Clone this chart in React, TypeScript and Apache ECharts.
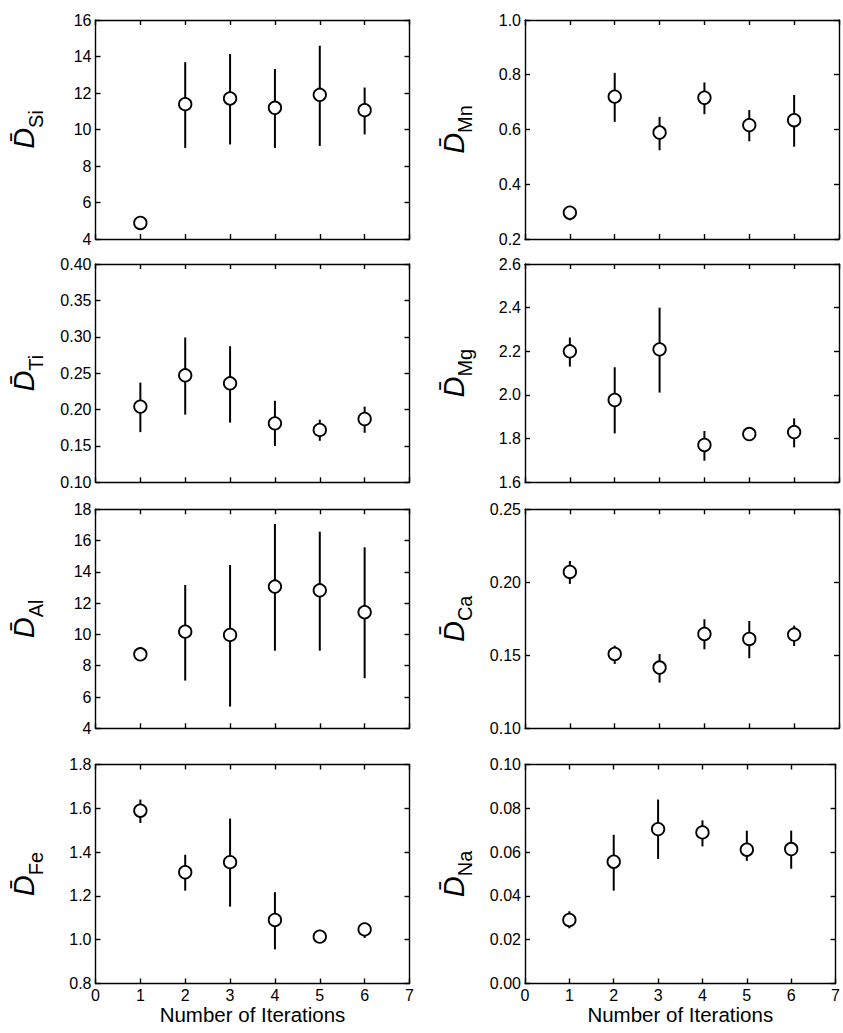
import React, { useEffect, useRef } from "react";
import * as echarts from "echarts";

const iterations = [1, 2, 3, 4, 5, 6];

const siMean = [4.88, 11.39, 11.7, 11.19, 11.9, 11.06];
const siLow = [4.8, 8.99, 9.18, 8.99, 9.1, 9.73];
const siHigh = [4.96, 13.69, 14.13, 13.31, 14.59, 12.3];

const tiMean = [0.204, 0.247, 0.236, 0.181, 0.172, 0.187];
const tiLow = [0.169, 0.193, 0.182, 0.15, 0.157, 0.168];
const tiHigh = [0.237, 0.299, 0.287, 0.212, 0.186, 0.204];

const alMean = [8.73, 10.18, 9.97, 13.06, 12.82, 11.42];
const alLow = [8.63, 7.05, 5.39, 8.96, 8.96, 7.2];
const alHigh = [8.83, 13.16, 14.44, 17.06, 16.57, 15.57];

const feMean = [1.589, 1.308, 1.354, 1.09, 1.014, 1.047];
const feLow = [1.533, 1.224, 1.151, 0.956, 1.004, 1.008];
const feHigh = [1.64, 1.388, 1.553, 1.217, 1.024, 1.078];

const mnMean = [0.296, 0.72, 0.589, 0.716, 0.616, 0.634];
const mnLow = [0.268, 0.628, 0.524, 0.656, 0.557, 0.537];
const mnHigh = [0.32, 0.807, 0.646, 0.772, 0.671, 0.726];

const mgMean = [2.2, 1.977, 2.209, 1.771, 1.821, 1.83];
const mgLow = [2.13, 1.824, 2.011, 1.699, 1.81, 1.76];
const mgHigh = [2.263, 2.127, 2.4, 1.835, 1.832, 1.893];

const caMean = [0.2071, 0.1509, 0.1416, 0.1646, 0.1612, 0.1642];
const caLow = [0.1989, 0.1441, 0.1313, 0.1541, 0.148, 0.1564];
const caHigh = [0.2146, 0.1566, 0.1509, 0.1747, 0.1735, 0.1703];

const naMean = [0.029, 0.0556, 0.0705, 0.069, 0.0611, 0.0614];
const naLow = [0.0252, 0.0424, 0.0569, 0.0626, 0.056, 0.0524];
const naHigh = [0.033, 0.0679, 0.084, 0.0745, 0.0698, 0.0698];

// y axis ranges: [min, max, interval, decimals]
const siAxis = [4, 16, 2, 0];
const tiAxis = [0.1, 0.4, 0.05, 2];
const alAxis = [4, 18, 2, 0];
const feAxis = [0.8, 1.8, 0.2, 1];
const mnAxis = [0.2, 1.0, 0.2, 1];
const mgAxis = [1.6, 2.6, 0.2, 1];
const caAxis = [0.1, 0.25, 0.05, 2];
const naAxis = [0, 0.1, 0.02, 2];

const xTitle = "Number of Iterations";

const panels = [
  { el: "Si", mean: siMean, low: siLow, high: siHigh, axis: siAxis, col: 0, row: 0 },
  { el: "Ti", mean: tiMean, low: tiLow, high: tiHigh, axis: tiAxis, col: 0, row: 1 },
  { el: "Al", mean: alMean, low: alLow, high: alHigh, axis: alAxis, col: 0, row: 2 },
  { el: "Fe", mean: feMean, low: feLow, high: feHigh, axis: feAxis, col: 0, row: 3 },
  { el: "Mn", mean: mnMean, low: mnLow, high: mnHigh, axis: mnAxis, col: 1, row: 0 },
  { el: "Mg", mean: mgMean, low: mgLow, high: mgHigh, axis: mgAxis, col: 1, row: 1 },
  { el: "Ca", mean: caMean, low: caLow, high: caHigh, axis: caAxis, col: 1, row: 2 },
  { el: "Na", mean: naMean, low: naLow, high: naHigh, axis: naAxis, col: 1, row: 3 },
];

const colLeft = [95.5, 525];
const colWidth = 314;
const rowTop = [20, 264, 509.3, 764.5];
const rowHeight = [219, 218.3, 219, 219];

const FONT = "Liberation Sans, Arial, sans-serif";

export default function App() {
  const ref = useRef<HTMLDivElement>(null);
  useEffect(() => {
    if (!ref.current) return;
    const chart = echarts.init(ref.current, undefined, { renderer: "svg" });
    const grid: any[] = [];
    const xAxis: any[] = [];
    const yAxis: any[] = [];
    const series: any[] = [];
    const lineStyle = { color: "#000", width: 1.4 };
    panels.forEach((p, i) => {
      grid.push({
        left: colLeft[p.col],
        top: rowTop[p.row],
        width: colWidth,
        height: rowHeight[p.row],
        containLabel: false,
      });
      const isBottom = p.row === 3;
      xAxis.push({
        type: "value",
        gridIndex: i,
        position: "bottom",
        min: 0,
        max: 7,
        interval: 1,
        axisLine: { show: true, onZero: false, lineStyle },
        axisTick: { show: true, inside: true, length: 5, lineStyle },
        splitLine: { show: false },
        axisLabel: {
          show: isBottom,
          margin: 4,
          fontSize: 16,
          fontFamily: FONT,
          color: "#000",
        },
        name: isBottom ? xTitle : "",
        nameLocation: "middle",
        nameGap: 19,
        nameTextStyle: { fontSize: 20.5, fontFamily: FONT, color: "#000", verticalAlign: "top" },
      });
      xAxis.push({
        type: "value",
        gridIndex: i,
        position: "top",
        min: 0,
        max: 7,
        interval: 1,
        axisLine: { show: true, onZero: false, lineStyle },
        axisTick: { show: true, inside: true, length: 5, lineStyle },
        splitLine: { show: false },
        axisLabel: { show: false },
      });
      const [mn, mx, iv, dec] = p.axis;
      yAxis.push({
        type: "value",
        gridIndex: i,
        position: "left",
        min: mn,
        max: mx,
        interval: iv,
        axisLine: { show: true, onZero: false, lineStyle },
        axisTick: { show: true, inside: true, length: 5, lineStyle },
        splitLine: { show: false },
        axisLabel: {
          margin: 4,
          fontSize: 16,
          fontFamily: FONT,
          color: "#000",
          formatter: (v: number) => v.toFixed(dec),
        },
        name: "{d|D\u0304}{s|" + p.el + "}",
        nameLocation: "middle",
        nameRotate: 90,
        nameGap: 57,
        nameTextStyle: {
          color: "#000",
          fontFamily: FONT,
          rich: {
            d: { fontSize: 29, fontStyle: "italic", fontFamily: FONT, color: "#000", verticalAlign: "bottom", lineHeight: 32 },
            s: { fontSize: 20, fontFamily: FONT, color: "#000", verticalAlign: "bottom", lineHeight: 24, padding: [0, 0, -7, 0] },
          },
        },
      });
      yAxis.push({
        type: "value",
        gridIndex: i,
        position: "right",
        min: mn,
        max: mx,
        interval: iv,
        axisLine: { show: true, onZero: false, lineStyle },
        axisTick: { show: true, inside: true, length: 5, lineStyle },
        splitLine: { show: false },
        axisLabel: { show: false },
      });
      const errData = iterations.map((x, k) => [x, p.low[k], p.high[k]]);
      const ptData = iterations.map((x, k) => [x, p.mean[k]]);
      series.push({
        type: "custom",
        xAxisIndex: 2 * i,
        yAxisIndex: 2 * i,
        data: errData,
        encode: { x: 0, y: [1, 2] },
        z: 2,
        renderItem: (params: any, api: any) => {
          const x = api.value(0);
          const a = api.coord([x, api.value(1)]);
          const b = api.coord([x, api.value(2)]);
          return {
            type: "line",
            shape: { x1: a[0], y1: a[1], x2: b[0], y2: b[1] },
            style: { stroke: "#000", lineWidth: 2 },
          };
        },
      });
      series.push({
        type: "scatter",
        xAxisIndex: 2 * i,
        yAxisIndex: 2 * i,
        data: ptData,
        symbol: "circle",
        symbolSize: 12.5,
        z: 3,
        itemStyle: { color: "#fff", borderColor: "#000", borderWidth: 1.8, opacity: 1 },
      });
    });
    chart.setOption({
      animation: false,
      backgroundColor: "#fff",
      grid,
      xAxis,
      yAxis,
      series,
    });
    return () => chart.dispose();
  }, []);
  return (
    <div
      ref={ref}
      style={{ position: "absolute", left: 0, top: 0, width: 843, height: 1033 }}
    />
  );
}
